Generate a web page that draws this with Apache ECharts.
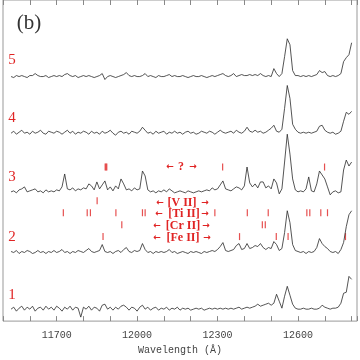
<!DOCTYPE html>
<html>
<head>
<meta charset="utf-8">
<script src="https://cdn.jsdelivr.net/npm/echarts@6/dist/echarts.min.js"></script>
<style>
  html, body { margin: 0; padding: 0; background: #fff; }
  #chart { width: 360px; height: 360px; }
</style>
</head>
<body>
<div id="chart"></div>
<script>
// --- data: wavelength grid (Å) and relative flux above each continuum ------
const LAM0 = 11530;   // first sample
const DLAM = 10;      // sampling step

const flux5 = [
  0.0, -0.1, 0.1, 0.0, 0.1, 0.0, -0.1, 0.1, 0.1, 0.3, 0.1, 0.0, 0.0, 0.1, -0.1, 0.0,
  0.1, 0.0, 0.1, 0.0, 0.2, 0.3, 0.1, 0.0, 0.1, -0.1, 0.0, 0.1, 0.0, 0.1, 0.0, -0.1,
  0.0, 0.1, 0.3, -0.3, 0.0, 0.1, 0.0, -0.1, 0.0, 0.1, 0.2, 0.4, 0.1, 0.0, 0.1, 0.0,
  0.0, 0.1, 0.3, 0.0, 0.1, 0.0, -0.1, 0.1, 0.0, 0.0, 0.1, 0.2, 0.0, 0.1, 0.0, 0.0,
  0.1, 0.0, -0.1, 0.0, 0.1, 0.0, 0.0, 0.1, 0.0, -0.1, 0.0, 0.1, 0.0, 0.1, 0.2, 0.3,
  0.1, 0.0, 0.1, 0.3, 0.0, 0.1, 0.2, 0.1, 0.1, 0.2, 0.1, 0.2, 0.1, 0.3, 0.1, 0.0,
  0.1, 0.0, 0.8, 0.3, 0.0, 0.3, 2.0, 3.8, 3.2, 0.6, 0.1, 0.1, 0.0, 0.1, 0.0, 0.1,
  0.0, 0.1, 0.2, 0.6, 0.4, 0.5, 0.1, 0.0, 0.1, 0.0, 0.1, 0.3, 1.5, 1.9, 2.2, 3.4
];
const flux4 = [
  0.0, 0.2, -0.1, 0.1, 0.3, 0.0, 0.1, -0.1, 0.2, 0.0, 0.1, 0.3, 0.0, -0.1, 0.2, 0.1,
  0.0, 0.2, 0.1, -0.1, 0.1, 0.3, 0.0, 0.2, -0.1, 0.1, 0.0, 0.2, 0.1, -0.1, 0.2, 0.0,
  0.1, -0.1, 0.2, 0.0, 0.1, 0.3, 0.0, -0.2, 0.1, 0.2, 0.0, 0.1, -0.1, 0.2, 0.1, 0.0,
  0.2, 0.6, 0.3, 0.0, 0.1, -0.1, 0.2, 0.0, 0.1, 0.2, -0.1, 0.1, 0.0, 0.2, 0.0, 0.1,
  -0.1, 0.1, 0.2, 0.0, 0.1, -0.1, 0.0, 0.2, 0.1, 0.0, 0.2, 0.1, -0.1, 0.1, 0.3, 0.1,
  0.0, 0.1, 0.2, 0.0, 0.3, 0.1, 0.0, 0.2, 0.6, 0.2, 0.1, 0.3, 0.1, 0.2, 0.0, 0.1,
  0.3, 0.5, 0.8, 0.2, 0.1, 0.4, 2.5, 4.8, 3.5, 0.9, 0.4, 0.1, 0.0, 0.1, 0.0, 0.1,
  0.0, 0.1, 0.2, 0.7, 0.8, 0.3, 0.1, 0.0, 0.1, -0.1, 0.0, 0.2, 1.2, 2.1, 1.9, 2.2
];
const flux3 = [
  0.0, 0.1, -0.1, 0.2, 0.3, 0.5, 0.0, 0.1, 0.2, 0.3, 0.0, 0.1, -0.1, 0.2, 0.0, 0.1,
  0.0, 0.2, 0.1, 0.5, 1.8, 0.3, 0.2, 0.4, 0.1, 0.3, 0.2, 0.4, 0.3, 0.8, 0.6, 0.2,
  1.0, 0.3, 0.7, 1.1, 0.2, 0.5, 0.1, 0.6, 0.3, 1.3, 0.8, 0.2, 0.3, 0.1, 0.4, 0.2,
  0.3, 2.1, 1.6, 0.2, 0.0, 0.1, -0.1, 0.1, 0.0, 0.2, 0.0, 0.3, 0.1, -0.1, 0.0, 0.1,
  0.0, -0.1, 0.1, 0.0, -0.1, 0.0, 0.1, 0.0, 0.1, 0.2, 0.1, 0.4, 0.2, 0.3, 0.7, 1.1,
  0.3, 0.2, 0.1, 0.3, 0.5, 0.4, 0.2, 0.6, 2.5, 0.9, 0.5, 0.8, 0.4, 1.0, 1.0, 0.4,
  0.6, 0.3, 1.3, 0.9, -0.2, 0.3, 3.0, 5.8, 3.8, 1.3, 0.2, 0.0, 0.1, 0.0, 0.3, 1.5,
  0.1, 0.0, 0.8, 2.1, 1.7, 1.3, 0.5, -0.3, 0.0, 0.1, -0.1, 0.0, 2.2, 3.2, 2.6, 3.0
];
const flux2 = [
  0.1, 0.0, 0.2, -0.1, 0.1, 0.0, 0.2, 0.1, -0.1, 0.0, 0.2, 0.0, 0.1, -0.1, 0.1, 0.0,
  0.2, 0.0, 0.1, 0.3, 0.0, 0.1, -0.1, 0.1, 0.0, 0.2, 0.1, 0.0, 0.2, 0.4, 0.1, 0.0,
  0.1, 0.2, 0.8, 0.1, 0.0, 0.1, -0.1, 0.1, 0.2, 0.0, 0.3, 0.5, 0.1, 0.0, 0.2, 0.1,
  0.2, 0.9, 0.3, 0.0, 0.1, -0.1, 0.1, 0.0, 0.1, 0.0, 0.1, 0.3, 0.0, 0.1, -0.1, 0.0,
  0.1, 0.0, -0.1, 0.1, 0.0, 0.1, 0.0, -0.1, 0.1, 0.0, 0.1, 0.2, 0.1, 0.3, 0.6, 1.0,
  0.2, 0.1, 0.2, 0.3, 0.7, 0.9, 0.3, 0.4, 0.9, 0.4, 0.5, 0.7, 0.6, 0.9, 0.5, 0.3,
  0.5, 0.4, 1.1, 0.8, 0.2, 0.4, 2.0, 4.2, 3.0, 0.8, 0.2, 0.1, 0.0, 0.1, -0.1, 0.1,
  0.0, 0.1, 0.5, 1.4, 0.9, 0.6, 0.4, 0.1, 0.0, 0.1, -0.1, 0.3, 1.0, 2.6, 3.8, 4.2
];
const flux1 = [
  0.0, 0.2, -0.2, 0.1, 0.3, -0.1, 0.2, 0.0, 0.3, -0.2, 0.1, 0.2, -0.1, 0.3, 0.0, 0.2,
  -0.1, 0.3, 0.1, -0.2, 0.2, 0.0, 0.3, -0.1, 0.2, 0.1, -0.8, 0.2, 0.0, 0.3, -0.1, 0.2,
  0.1, -0.2, 0.4, 0.5, 0.0, 0.2, -0.1, 0.2, 0.0, 0.3, 0.4, 0.2, -0.1, 0.2, 0.1, -0.2,
  0.2, 0.4, 0.0, 0.2, -0.1, 0.1, 0.2, -0.1, 0.1, 0.0, 0.2, -0.1, 0.1, 0.0, 0.2, -0.1,
  0.1, 0.0, 0.1, -0.1, 0.0, 0.1, 0.0, 0.1, -0.1, 0.0, 0.1, 0.0, 0.1, 0.0, 0.1, 0.0,
  0.1, 0.0, 0.1, 0.0, 0.1, 0.2, 0.0, 0.1, 0.2, 0.1, 0.2, 0.3, 0.5, 0.3, 0.4, 0.5,
  0.6, 0.4, 0.6, 1.5, 0.8, 0.1, 1.3, 2.3, 1.4, 0.5, 0.1, 0.0, 0.0, 0.1, 0.0, 0.0,
  0.1, 0.0, 0.0, 0.1, 0.4, 0.2, 0.1, 0.0, 0.1, 0.1, 0.2, 0.6, 1.6, 1.7, 3.3, 3.0
];

const spectra = [flux1, flux2, flux3, flux4, flux5];
const specNames = ["1", "2", "3", "4", "5"];
const offsets = [1.2, 6.9, 13.0, 18.9, 24.6];   // vertical shift of each trace

// line identifications (Å)
const linesUnknown = [11881, 11884, 11887, 12319, 12699];
const linesV = [11851];
const linesTi = [11725, 11814, 11826, 11921, 12020, 12030, 12290, 12411, 12489, 12633, 12644, 12685, 12710];
const linesCr = [11943, 12467, 12478];
const linesFe = [11873, 12382, 12519, 12563, 12777];
const markRows = [15.5, 12.1, 10.9, 9.7, 8.5];  // flux level of each marker row

const xTickLabels = [11700, 12000, 12300, 12600];

// --- styling ---------------------------------------------------------------
const RED = "#e02424";
const INK = "#2a2a2a";
const SERIF = '"Liberation Serif", "DejaVu Serif", serif';
const MONO = '"Liberation Mono", "DejaVu Sans Mono", monospace';

const chart = echarts.init(document.getElementById("chart"), null, { renderer: "canvas" });

const specSeries = spectra.map((f, k) => ({
  type: "line",
  name: specNames[k],
  showSymbol: false,
  silent: true,
  data: f.map((v, i) => [LAM0 + DLAM * i, v + offsets[k]]),
  lineStyle: { color: INK, width: 0.8 },
}));

const markSets = [linesUnknown, linesV, linesTi, linesCr, linesFe];
const markSeries = markSets.map((set, k) => ({
  type: "scatter",
  symbol: "rect",
  symbolSize: [1.2, 7],
  silent: true,
  itemStyle: { color: RED },
  data: set.map((l) => [l, markRows[k]]),
}));

const axisCommon = {
  type: "value",
  min: 11500,
  max: 12820,
  interval: 100,
  axisLine: { show: false },
  splitLine: { show: false },
  axisTick: { inside: true, length: 5, lineStyle: { color: "#888" } },
};

// text labels: trace numbers, panel tag, ion names with arrows
const txt = (text, x, y, size, fill, family, weight) => ({
  type: "text",
  x, y,
  silent: true,
  style: {
    text, fill,
    font: `${weight || "normal"} ${size}px ${family}`,
    textAlign: "center",
    textVerticalAlign: "middle",
  },
});

const numY = [295, 237, 177, 118, 60];
const ionRows = [
  { name: "?", y: 167, l: 170, c: 181, r: 193 },
  { name: "[V II]", y: 203, l: 160, c: 182, r: 205 },
  { name: "[Ti II]", y: 214, l: 159, c: 184, r: 205 },
  { name: "[Cr II]", y: 226, l: 157, c: 183, r: 206 },
  { name: "[Fe II]", y: 238, l: 157, c: 183, r: 207 },
];

const graphics = [txt("(b)", 29, 23, 21, "#333", SERIF)];
specNames.forEach((n, k) => graphics.push(txt(n, 12, numY[k], 15, RED, SERIF)));
ionRows.forEach((r) => {
  graphics.push(txt("←", r.l, r.y, 9, RED, '"DejaVu Sans"', "bold"));
  graphics.push(txt(r.name, r.c, r.y, 12, RED, SERIF, "bold"));
  graphics.push(txt("→", r.r, r.y, 9, RED, '"DejaVu Sans"', "bold"));
});

chart.setOption({
  animation: false,
  backgroundColor: "#fff",
  grid: {
    left: 1, right: 1, top: 0, bottom: 37,
    containLabel: false,
    show: true,
    borderColor: "#999",
    borderWidth: 1,
  },
  xAxis: [
    {
      ...axisCommon,
      position: "bottom",
      name: "Wavelength (Å)",
      nameLocation: "middle",
      nameGap: 20,
      nameTextStyle: { color: "#444", fontFamily: MONO, fontSize: 10 },
      axisLabel: {
        color: "#444",
        fontFamily: MONO,
        fontSize: 10,
        margin: 9,
        formatter: (v) => (xTickLabels.includes(v) ? String(v) : ""),
      },
    },
    { ...axisCommon, position: "top", axisLabel: { show: false } },
  ],
  yAxis: { type: "value", min: 0, max: 32.3, show: false },
  series: [...specSeries, ...markSeries],
  graphic: graphics,
});
</script>
</body>
</html>
